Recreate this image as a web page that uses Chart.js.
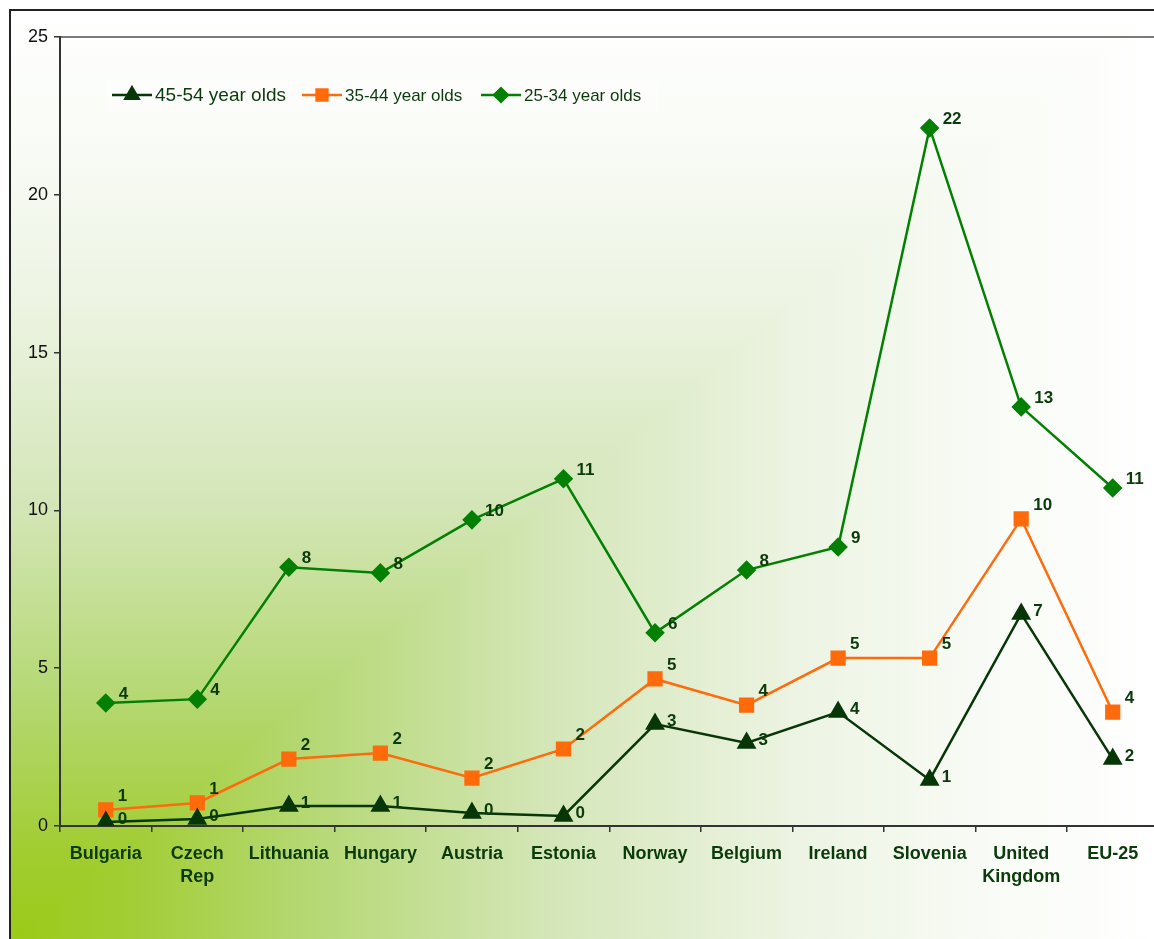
<!DOCTYPE html>
<html>
<head>
<meta charset="utf-8">
<script src="https://cdn.jsdelivr.net/npm/chart.js@4"></script>
<style>
  html, body { margin: 0; padding: 0; overflow: hidden; background: #ffffff; }
  #wrap { position: absolute; left: 0; top: 0; width: 1170px; height: 939px; }
</style>
</head>
<body>
<div id="wrap"><canvas id="c" width="1170" height="939"></canvas></div>
<script>
// ---- data ----
const categories = [["Bulgaria"], ["Czech", "Rep"], ["Lithuania"], ["Hungary"], ["Austria"], ["Estonia"], ["Norway"], ["Belgium"], ["Ireland"], ["Slovenia"], ["United", "Kingdom"], ["EU-25"]];
const seriesNames = ["45-54 year olds", "35-44 year olds", "25-34 year olds"];
const values4554 = [0.13, 0.22, 0.63, 0.63, 0.41, 0.32, 3.23, 2.63, 3.61, 1.46, 6.72, 2.12];
const values3544 = [0.51, 0.73, 2.12, 2.31, 1.52, 2.44, 4.66, 3.83, 5.32, 5.32, 9.73, 3.61];
const values2534 = [3.90, 4.02, 8.20, 8.02, 9.70, 11.00, 6.12, 8.11, 8.84, 22.12, 13.28, 10.71];
const yTicks = [0, 5, 10, 15, 20, 25];

const FONT = "'Liberation Sans', Arial, Helvetica, sans-serif";
const TEXT_GREEN = '#0b3a0b';

function addStops(g) {
  g.addColorStop(0.00, '#9bca17');
  g.addColorStop(0.10, '#a2cd33');
  g.addColorStop(0.26, '#b5d873');
  g.addColorStop(0.47, '#d4e6b8');
  g.addColorStop(0.69, '#edf4e3');
  g.addColorStop(0.85, '#f8fbf5');
  g.addColorStop(1.00, '#ffffff');
  return g;
}

const backgroundPlugin = {
  id: 'frameBackground',
  beforeDraw(chart) {
    const ctx = chart.ctx;
    const L = 11, T = 11, R = 1154, B = 939;
    ctx.save();
    // whole frame: horizontal gradient
    ctx.fillStyle = addStops(ctx.createLinearGradient(L, 0, R, 0));
    ctx.fillRect(L, T, chart.width - L, chart.height - T);
    // upper-left triangle: vertical gradient (overlaid, no seam)
    ctx.beginPath();
    ctx.moveTo(L - 2, B + 2); ctx.lineTo(L - 2, T); ctx.lineTo(R + 2, T - 2); ctx.closePath();
    ctx.fillStyle = addStops(ctx.createLinearGradient(0, B, 0, T));
    ctx.fill();
    ctx.restore();
    // frame border
    ctx.save();
    ctx.strokeStyle = '#222';
    ctx.lineWidth = 2;
    ctx.beginPath();
    ctx.moveTo(10, chart.height + 5);
    ctx.lineTo(10, 10);
    ctx.lineTo(chart.width + 5, 10);
    ctx.stroke();
    // plot area top line
    const a = chart.chartArea;
    ctx.strokeStyle = '#7a7a7a';
    ctx.lineWidth = 2;
    ctx.beginPath();
    ctx.moveTo(a.left, a.top);
    ctx.lineTo(a.right, a.top);
    ctx.stroke();
    ctx.restore();
  }
};

const legendPlugin = {
  id: 'insideLegend',
  afterDatasetsDraw(chart) {
    const ctx = chart.ctx;
    ctx.save();
    ctx.fillStyle = 'rgba(255,255,255,0.45)';
    ctx.fillRect(105, 79, 553, 33);
    const items = [
      { x: 112, size: 19 },
      { x: 302, size: 17 },
      { x: 481, size: 17 }
    ];
    const y = 95;
    chart.data.datasets.forEach((ds, i) => {
      const it = items[i];
      ctx.strokeStyle = ds.borderColor;
      ctx.lineWidth = ds.borderWidth;
      ctx.beginPath();
      ctx.moveTo(it.x, y);
      ctx.lineTo(it.x + 40, y);
      ctx.stroke();
      ctx.fillStyle = ds.pointBackgroundColor;
      ctx.strokeStyle = ds.pointBorderColor;
      ctx.beginPath();
      Chart.helpers.drawPoint(ctx, {
        pointStyle: ds.pointStyle,
        radius: ds.pointRadius * 0.85,
        borderWidth: 1
      }, it.x + 20, y);
      ctx.fillStyle = TEXT_GREEN;
      ctx.font = it.size + 'px ' + FONT;
      ctx.textAlign = 'left';
      ctx.textBaseline = 'middle';
      ctx.fillText(ds.label, it.x + 43, y + 1);
    });
    ctx.restore();
  }
};

const valueLabelPlugin = {
  id: 'valueLabels',
  afterDatasetsDraw(chart) {
    const ctx = chart.ctx;
    ctx.save();
    ctx.font = 'bold 17px ' + FONT;
    ctx.fillStyle = TEXT_GREEN;
    ctx.textAlign = 'left';
    ctx.textBaseline = 'middle';
    chart.data.datasets.forEach((ds, i) => {
      const meta = chart.getDatasetMeta(i);
      meta.data.forEach((pt, j) => {
        const v = Math.round(ds.data[j]);
        ctx.fillText(String(v), pt.x + ds.labelDx, pt.y + ds.labelDy);
      });
    });
    ctx.restore();
  }
};

const chart = new Chart(document.getElementById('c'), {
  type: 'line',
  data: {
    labels: categories,
    datasets: [
      {
        label: seriesNames[0],
        data: values4554,
        borderColor: '#073607',
        backgroundColor: '#073607',
        pointBackgroundColor: '#073607',
        pointBorderColor: '#073607',
        pointStyle: 'triangle',
        pointRadius: 9,
        borderWidth: 2.5,
        tension: 0,
        labelDx: 12, labelDy: -3
      },
      {
        label: seriesNames[1],
        data: values3544,
        borderColor: '#ff6a0a',
        backgroundColor: '#ff6a0a',
        pointBackgroundColor: '#ff6a0a',
        pointBorderColor: '#ff6a0a',
        pointStyle: 'rect',
        pointRadius: 9,
        borderWidth: 2.5,
        tension: 0,
        labelDx: 12, labelDy: -14
      },
      {
        label: seriesNames[2],
        data: values2534,
        borderColor: '#038003',
        backgroundColor: '#038003',
        pointBackgroundColor: '#038003',
        pointBorderColor: '#038003',
        pointStyle: 'rectRot',
        pointRadius: 8,
        borderWidth: 2.5,
        tension: 0,
        labelDx: 13, labelDy: -9
      }
    ]
  },
  options: {
    responsive: false,
    animation: false,
    devicePixelRatio: 1,
    layout: { padding: { left: 0, top: 37, right: 10, bottom: 0 } },
    plugins: {
      legend: { display: false },
      tooltip: { enabled: false }
    },
    scales: {
      x: {
        type: 'category',
        offset: true,
        grid: { offset: true, drawOnChartArea: false, drawTicks: true, tickLength: 6, color: '#333', lineWidth: 1.5 },
        border: { color: '#333', width: 2 },
        ticks: {
          autoSkip: false,
          maxRotation: 0,
          minRotation: 0,
          padding: 10,
          color: TEXT_GREEN,
          font: { family: FONT, size: 18, weight: 'bold', lineHeight: 1.3 }
        },
        afterFit(scale) { scale.height = 113; }
      },
      y: {
        min: 0,
        max: 25,
        afterBuildTicks(scale) { scale.ticks = yTicks.map(v => ({ value: v })); },
        grid: { drawOnChartArea: false, drawTicks: true, tickLength: 6, color: '#333', lineWidth: 1.5 },
        border: { color: '#333', width: 2 },
        ticks: {
          padding: 6,
          color: '#111',
          font: { family: FONT, size: 18 }
        },
        afterFit(scale) { scale.width = 60; }
      }
    }
  },
  plugins: [backgroundPlugin, legendPlugin, valueLabelPlugin]
});
</script>
</body>
</html>
